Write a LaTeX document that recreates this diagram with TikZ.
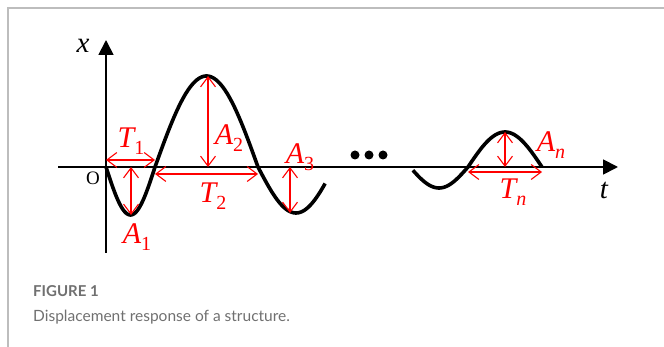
\documentclass[tikz,border=0pt]{standalone}
\usepackage{fontspec}
\setmainfont{Liberation Serif}
\newfontfamily\capfont{Lato}
\usetikzlibrary{arrows.meta}
\definecolor{capgray}{HTML}{707070}
\definecolor{framegray}{HTML}{BDBDBD}
\newcommand{\lbl}[2]{{\fontsize{30}{30}\selectfont\itshape #1}\raisebox{-7pt}{\fontsize{20}{20}\selectfont #2}}
\begin{document}
\begin{tikzpicture}[x=1pt,y=-1pt,
  axis/.style={line width=1.8pt,-{Triangle[length=15pt,width=15pt]}},
  wave/.style={line width=3.6pt,line join=round},
  dim/.style={red,line width=1.1pt,{Straight Barb[length=10pt,width=15pt]}-{Straight Barb[length=10pt,width=15pt]}},
  lab/.style={red,inner sep=0pt,anchor=center},
  caption/.style={capgray,inner sep=0pt,anchor=base west}]
\useasboundingbox (0,0) rectangle (664,347);
\draw[framegray,line width=1.4pt] (8,347) -- (8,8) -- (664,8);
% axes
\coordinate (ybot) at (106,253);
\coordinate (ytop) at (106,40);
\coordinate (tleft) at (58,167);
\coordinate (tright) at (618,167);
\draw[axis] (ybot) -- (ytop);
\draw[axis] (tleft) -- (tright);
\node (xl) at (83,46) {\fontsize{29}{29}\selectfont\itshape x};
\node (tl) at (604,190) {\fontsize{29}{29}\selectfont\itshape t};
\node (ol) at (93,178) {\fontsize{19}{19}\selectfont O};
% wave (parameter = phase in degrees)
\draw[wave] plot[domain=0:180,samples=40] ({106+\x/180*49},{167+48*sin(\x)})
  -- plot[domain=0:180,samples=60] ({155+\x/180*103},{167-91*sin(\x)})
  -- plot[domain=0:159,samples=40] ({258+\x/180*76},{167+46*sin(\x)});
\draw[wave] plot[domain=9:180,samples=40] ({410+\x/180*58},{167+21*sin(\x)})
  -- plot[domain=0:180,samples=40] ({468+\x/180*74},{167-35*sin(\x)});
% dots
\foreach \i/\xx in {1/355,2/369,3/383} \fill (\xx,155) circle (4.5pt);
% dimension coordinates
\coordinate (t1a) at (106,160); \coordinate (t1b) at (155,160);
\coordinate (a1a) at (131,167); \coordinate (a1b) at (131,215);
\coordinate (a2a) at (208,76);  \coordinate (a2b) at (208,167);
\coordinate (t2a) at (155,174); \coordinate (t2b) at (258,174);
\coordinate (a3a) at (290,167); \coordinate (a3b) at (290,213);
\coordinate (ana) at (505,132); \coordinate (anb) at (505,167);
\coordinate (tna) at (468,172); \coordinate (tnb) at (542,172);
\draw[dim] (t1a) -- (t1b);
\draw[dim] (a1a) -- (a1b);
\draw[dim] (a2a) -- (a2b);
\draw[dim] (t2a) -- (t2b);
\draw[dim] (a3a) -- (a3b);
\draw[dim] (ana) -- (anb);
\draw[dim] (tna) -- (tnb);
\node[lab] (T1) at (131,141) {\lbl{T}{1}};
\node[lab] (A1) at (137,237) {\lbl{A}{1}};
\node[lab] (A2) at (229,138) {\lbl{A}{2}};
\node[lab] (T2) at (213,196) {\lbl{T}{2}};
\node[lab] (A3) at (300,157) {\lbl{A}{3}};
\node[lab] (An) at (551,145) {\lbl{A}{\itshape n}};
\node[lab] (Tn) at (513,192) {\lbl{T}{\itshape n}};
% caption
\node[caption] (fig) at (33,297) {\capfont\fontsize{15}{15}\selectfont\bfseries FIGURE 1};
\node[caption] (cap) at (33,322) {\capfont\fontsize{15.5}{15.5}\selectfont Displacement response of a structure.};
\end{tikzpicture}
\end{document}
